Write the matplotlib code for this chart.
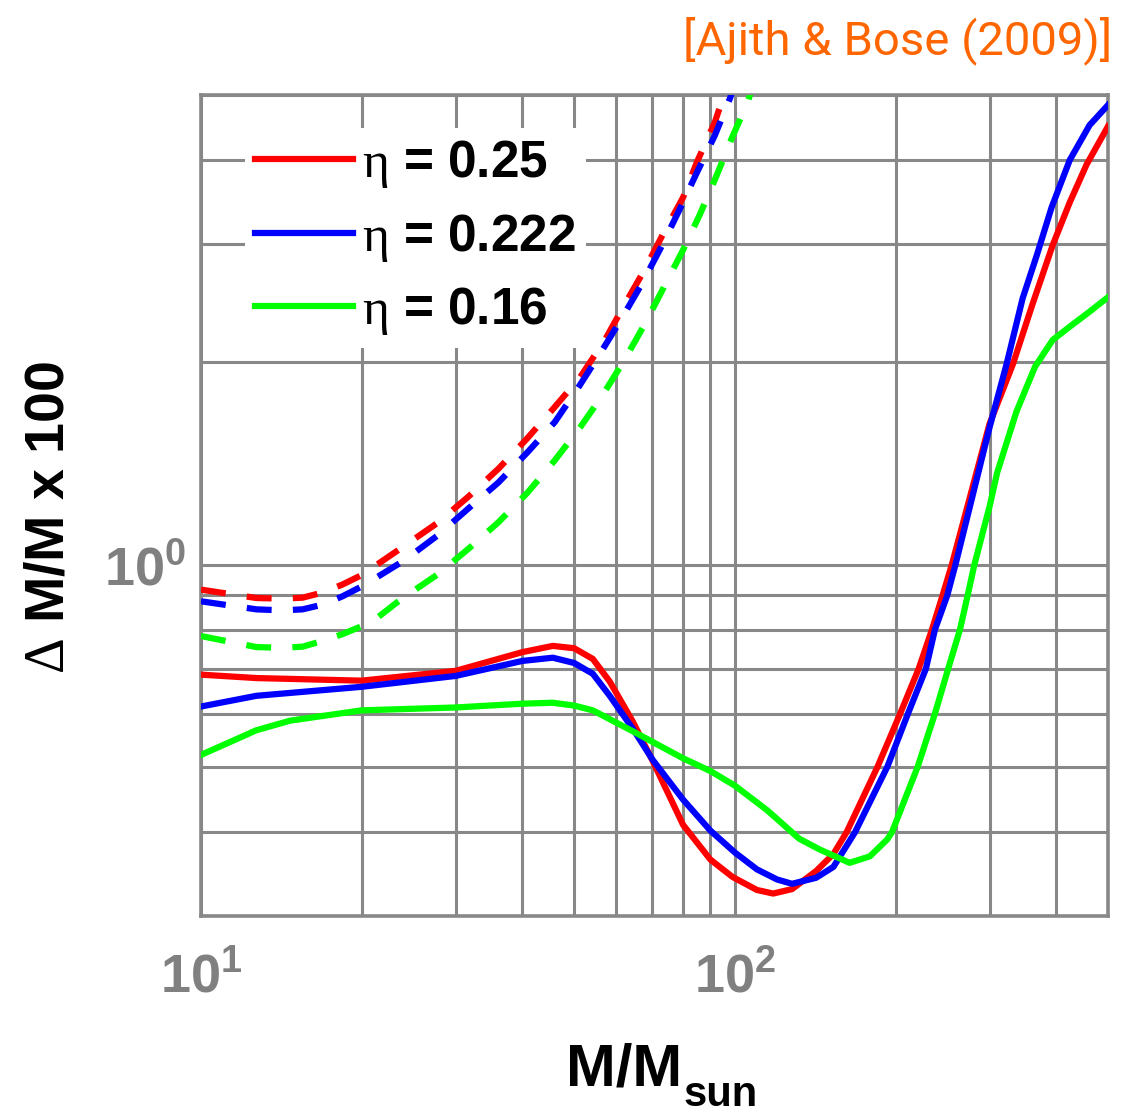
import matplotlib
matplotlib.use("Agg")
import matplotlib.pyplot as plt
from matplotlib.ticker import FixedLocator, NullFormatter, LogLocator

# total mass (M_sun) and percentage error in M, solid: full waveform, dashed: inspiral only
m_025 = [10, 12.7, 20, 30, 40, 45.6, 50, 54.2, 58.3, 64.4, 70.2, 80, 90, 99, 110, 118, 128,
         142, 153, 162, 185, 204, 221, 234, 245, 255, 300, 332, 361, 394, 424, 456, 500]
err_025 = [0.686, 0.678, 0.672, 0.695, 0.741, 0.757, 0.751, 0.724, 0.670, 0.584, 0.510, 0.410,
           0.364, 0.343, 0.328, 0.324, 0.329, 0.350, 0.371, 0.40, 0.50, 0.60, 0.70, 0.80, 0.90,
           1.0, 1.62, 1.99, 2.44, 2.99, 3.46, 3.94, 4.49]

m_0222 = [10, 12.7, 20, 30, 40, 45.6, 50, 54.2, 58.3, 64.4, 70.2, 80, 90, 100, 110, 120, 128,
          142, 153, 168, 193, 211, 228, 237, 250, 259, 300, 323, 346, 368, 392, 424, 462, 500]
err_0222 = [0.615, 0.638, 0.658, 0.683, 0.719, 0.727, 0.714, 0.688, 0.638, 0.570, 0.512, 0.447,
            0.402, 0.373, 0.352, 0.340, 0.335, 0.342, 0.355, 0.40, 0.50, 0.60, 0.70, 0.80, 0.90,
            1.0, 1.60, 1.99, 2.49, 2.89, 3.40, 4.0, 4.51, 4.83]

m_016 = [10, 12.7, 14.7, 20, 30, 40, 45.6, 50, 54.2, 64.4, 80, 90, 100, 115, 132, 144, 164, 179,
         193, 197, 220, 237, 251, 264, 273, 281, 300, 310, 337, 365, 394, 424, 462, 500]
err_016 = [0.521, 0.567, 0.586, 0.607, 0.613, 0.621, 0.623, 0.617, 0.607, 0.565, 0.515, 0.493,
           0.469, 0.431, 0.391, 0.377, 0.360, 0.368, 0.390, 0.40, 0.50, 0.60, 0.70, 0.80, 0.90,
           1.0, 1.22, 1.37, 1.69, 1.97, 2.16, 2.26, 2.38, 2.50]

m_025_insp = [10, 10.85, 12.7, 14.2, 15.5, 16.9, 18.4, 20, 20.7, 23.9, 27.7, 31.6, 36.1, 40.8,
              45.8, 51.3, 57.1, 62.2, 67.8, 73.3, 80, 85, 91.7, 97]
err_025_insp = [0.918, 0.909, 0.892, 0.890, 0.893, 0.909, 0.934, 0.965, 0.983, 1.063, 1.153,
                1.26, 1.39, 1.54, 1.71, 1.90, 2.16, 2.44, 2.75, 3.10, 3.52, 3.98, 4.55, 5.2]

m_0222_insp = [10, 12.7, 14.2, 15.5, 16.9, 18.4, 20, 20.6, 24.0, 27.7, 31.6, 36.1, 40.9, 46,
               50.8, 55.9, 61.3, 67, 72.8, 78.7, 84.6, 91.7, 98, 100]
err_0222_insp = [0.882, 0.858, 0.855, 0.858, 0.872, 0.897, 0.928, 0.941, 1.014, 1.104, 1.21,
                 1.326, 1.47, 1.63, 1.83, 2.06, 2.32, 2.62, 2.97, 3.37, 3.81, 4.35, 4.95, 5.2]

m_016_insp = [10, 12.7, 14.2, 15.5, 16.9, 18.4, 20, 21.45, 23.3, 24.8, 26.85, 27.7, 31.7, 36.1,
              40.9, 46, 51.3, 56.6, 62.2, 67.8, 73.3, 80, 86, 92.4, 98.8, 105.5, 108]
err_016_insp = [0.783, 0.754, 0.752, 0.755, 0.770, 0.788, 0.81, 0.835, 0.879, 0.91, 0.95, 0.966,
                1.056, 1.157, 1.28, 1.43, 1.60, 1.79, 2.02, 2.28, 2.57, 2.94, 3.32, 3.79, 4.32,
                4.86, 5.15]

labels = [r'$\mathsf{\eta}$ = 0.25', r'$\mathsf{\eta}$ = 0.222', r'$\mathsf{\eta}$ = 0.16']
colors = ['#ff0000', '#0000ff', '#00ff00']

plt.rcParams['font.family'] = ['Liberation Sans', 'DejaVu Sans']
plt.rcParams['mathtext.fontset'] = 'custom'
plt.rcParams['mathtext.rm'] = 'Liberation Sans'
plt.rcParams['mathtext.bf'] = 'Liberation Sans:bold'
plt.rcParams['mathtext.sf'] = 'Liberation Serif'
plt.rcParams['mathtext.it'] = 'Liberation Sans:italic'

fig = plt.figure(figsize=(11.4, 11.16), dpi=100)
ax = fig.add_axes([0.1763, 0.1792, 0.7956, 0.7357])

lw = 4.5
full = [(m_025, err_025), (m_0222, err_0222), (m_016, err_016)]
insp = [(m_025_insp, err_025_insp), (m_0222_insp, err_0222_insp), (m_016_insp, err_016_insp)]
handles = []
for (m, e), (mi, ei), c, lab in zip(full, insp, colors, labels):
    h, = ax.plot(m, e, color=c, lw=lw, label=lab, zorder=3)
    ax.plot(mi, ei, color=c, lw=lw, dashes=(4.0, 3.4), zorder=3)
    handles.append(h)

ax.set_xscale('log')
ax.set_yscale('log')
ax.set_xlim(10, 500)
ax.set_ylim(0.3, 5)

ax.xaxis.set_major_locator(FixedLocator([10, 100]))
ax.xaxis.set_minor_locator(LogLocator(base=10, subs=range(2, 10)))
ax.yaxis.set_major_locator(FixedLocator([1]))
ax.yaxis.set_minor_locator(LogLocator(base=10, subs=range(2, 10)))
ax.xaxis.set_minor_formatter(NullFormatter())
ax.yaxis.set_minor_formatter(NullFormatter())
ax.set_xticklabels([r'$\mathbf{10^{1}}$', r'$\mathbf{10^{2}}$'])
ax.set_yticklabels([r'$\mathbf{10^{0}}$'])
ax.tick_params(which='both', length=0, labelcolor='#808080', labelsize=39)
ax.tick_params(axis='x', pad=26)
ax.tick_params(axis='y', pad=11)

ax.set_axisbelow(True)
ax.grid(True, which='both', color='#888888', lw=2.2)
for s in ax.spines.values():
    s.set_color('#888888')
    s.set_linewidth(2.6)

# x label with a dropped "sun" subscript
ax.set_xlabel('M/M', fontsize=43, fontweight='bold', labelpad=28)
ax.xaxis.label.set_position((0.467, 0))
ax.annotate('sun', xy=(1, 0), xycoords=ax.xaxis.label, xytext=(1, -6),
            textcoords='offset points', fontsize=30, fontweight='bold', va='baseline')
ax.set_ylabel(r'$\mathsf{\Delta}$ M/M x 100', fontsize=40, fontweight='bold', labelpad=20)
ax.yaxis.label.set_position((0, 0.485))

ax.legend(handles=handles, loc='upper left', bbox_to_anchor=(0.0485, 0.96),
          borderaxespad=0, frameon=True, facecolor='white', edgecolor='none',
          framealpha=1, fancybox=False, prop={'weight': 'bold', 'size': 37},
          handlelength=1.9, handletextpad=0.17, labelspacing=0.42, borderpad=0.2)

fig.text(0.976, 0.964, '[Ajith & Bose (2009)]', ha='right', va='center',
         color='#ff6600', fontsize=34, family=['Roboto', 'DejaVu Sans'])

fig.savefig('out.png', dpi=100)
